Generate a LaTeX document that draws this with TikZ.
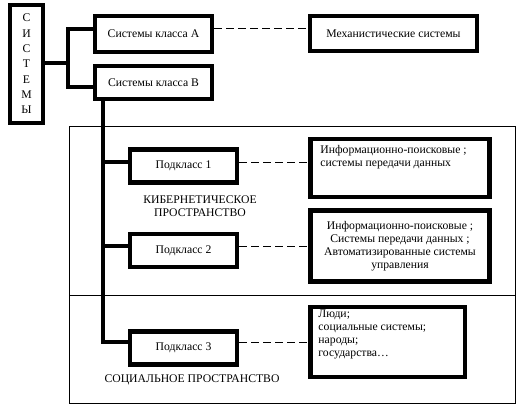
\documentclass[tikz,border=0pt]{standalone}
\usepackage{fontspec}
\setmainfont{Liberation Serif}
\usetikzlibrary{calc}
\tikzset{
	box/.style={draw, line width=4.5pt, inner sep=0pt, align=center},
	link/.style={line width=4.5pt},
	dashlink/.style={line width=1pt, dash pattern=on 8pt off 4pt},
	frame/.style={line width=1pt},
	txt/.style={inner sep=0pt, align=left, anchor=north west}
}

\begin{document}
\begin{tikzpicture}[x=1pt, y=-1pt, font=\fontsize{11.7}{13}\selectfont]
		%%%%% START %%%%%
		\useasboundingbox (0, 0) rectangle (524, 410);
		\draw[frame] (69, 126) rectangle (515, 403);
		\draw[frame] (69, 295) -- (515, 295);
		
		\node[box, minimum width=33pt, minimum height=118pt, font=\fontsize{11.7}{15.3}\selectfont] (sys) at (26.5, 64) {С\\И\\С\\Т\\Е\\М\\Ы};
		\node[box, minimum width=117pt, minimum height=36pt] (clsA) at (153.5, 34) {Системы класса А};
		\node[box, minimum width=117pt, minimum height=33pt] (clsB) at (153.5, 82.5) {Системы класса В};
		\node[box, minimum width=167pt, minimum height=35pt] (mech) at (393.5, 33.5) {Механистические системы};
		
		\node[box, minimum width=107pt, minimum height=33pt] (sub1) at (183.5, 166) {Подкласс 1};
		\node[box, minimum width=107pt, minimum height=33pt] (sub2) at (183.5, 250.5) {Подкласс 2};
		\node[box, minimum width=107pt, minimum height=33pt] (sub3) at (183.5, 348) {Подкласс 3};
		
		\node[box, minimum width=179pt, minimum height=58pt] (info1) at (400, 168) {};
		\node[txt] (info1t) at ($(info1.north west)+(12, 8)$) {Информационно-поисковые ;\\системы передачи данных};
		\node[box, minimum width=179pt, minimum height=71pt] (info2) at (400, 246) {Информационно-поисковые ;\\Системы передачи данных ;\\Автоматизированные системы\\управления};
		\node[box, minimum width=154.5pt, minimum height=70pt] (info3) at (387.75, 342) {};
		\node[txt] (info3t) at ($(info3.north west)+(10, 5)$) {Люди;\\социальные системы;\\народы;\\государства\dots};
		
		\node[align=center, inner sep=0pt] (cyber) at (200, 206) {КИБЕРНЕТИЧЕСКОЕ\\ПРОСТРАНСТВО};
		\node[inner sep=0pt] (social) at (192, 380) {СОЦИАЛЬНОЕ ПРОСТРАНСТВО};
		
		% top fork
		\coordinate (fork) at (68, 63);
		\coordinate (inA) at ($(clsA.west)+(0, -5)$);
		\coordinate (inB) at ($(clsB.west)+(0, 4.5)$);
		\draw[link] (sys.east |- fork) -- (fork);
		\draw[link] (inA) -| (fork) |- (inB);
		
		% trunk
		\coordinate (top) at ($(clsB.south west)+(10, 0)$);
		\coordinate (in1) at ($(sub1.west)+(0, -4)$);
		\coordinate (in2) at ($(sub2.west)+(0, -4.5)$);
		\coordinate (in3) at ($(sub3.west)+(0, -6)$);
		\draw[link] (top) |- (in3);
		\draw[link] (in1 -| top) -- (in1);
		\draw[link] (in2 -| top) -- (in2);
		
		% dashed links
		\coordinate (outA) at ($(clsA.east)+(0, -5.5)$);
		\draw[dashlink] (outA) -- (outA -| mech.west);
		\draw[dashlink] (sub1.east |- in1) -- (in1 -| info1.west);
		\draw[dashlink] (sub2.east |- in2) -- (in2 -| info2.west);
		\draw[dashlink] (sub3.east |- in3) -- (in3 -| info3.west);
		%%%%% END %%%%%
	\end{tikzpicture}
\end{document}
